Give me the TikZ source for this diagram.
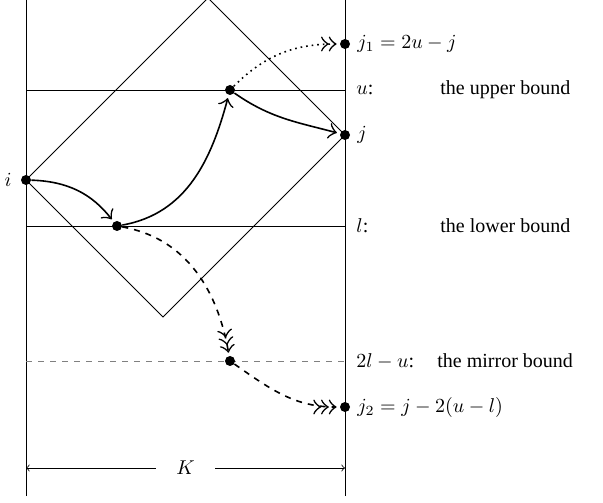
\documentclass[tikz,border=0pt]{standalone}
\usepackage{amsmath}
\usepackage{fontspec}
\setmainfont{Liberation Serif}
\usetikzlibrary{arrows.meta}

\tikzset{
  dot/.style={circle,fill,inner sep=0pt,minimum size=5pt},
  walk/.style={thick,shorten >=1.5pt,-{Classical TikZ Rightarrow[scale=1.6]}},
  twotip/.style={-{Classical TikZ Rightarrow[scale=1.5,sep=0pt]Classical TikZ Rightarrow[scale=1.5]}},
  threetip/.style={-{Classical TikZ Rightarrow[scale=1.5,sep=0pt]Classical TikZ Rightarrow[scale=1.5,sep=0pt]Classical TikZ Rightarrow[scale=1.5]}},
  boundtext/.style={anchor=west,inner sep=0pt}
}

\begin{document}
\begin{tikzpicture}[x=0.5pt,y=0.5pt]
\useasboundingbox (0,0) rectangle (603,502);
\clip (0,0) rectangle (603,502);
% the strip and its bounds
\coordinate (lb) at (26,6);
\coordinate (lt) at (26,502);
\coordinate (rb) at (345,6);
\coordinate (rt) at (345,502);
\draw (lb) -- (lt);
\draw (rb) -- (rt);
\draw (26,412) -- (345,412);
\draw (26,276) -- (345,276);
\draw[dashed,gray] (26,141) -- (345,141);
% the square
\draw[thin] (26,322) -- (163,185) -- (345,367) -- (208,504) -- cycle;
% points of the walk
\node[dot,label={[label distance=1pt]left:$i$}] (i) at (26,322) {};
\node[dot] (a) at (117,276) {};
\node[dot] (b) at (230,412) {};
\node[dot,label={[label distance=0pt]right:$j$}] (j) at (345,367) {};
\node[dot,label={[label distance=0pt]right:$j_1=2u-j$}] (j1) at (345,458) {};
\node[dot] (m) at (230,141) {};
\node[dot,label={[label distance=0pt]right:$j_2=j-2(u-l)$}] (j2) at (345,95) {};
% labels of the bounds
\node[boundtext] (ul) at (356,412) {$u$:};
\node[boundtext] (ut) at (440,412) {the upper bound};
\node[boundtext] (ll) at (356,276) {$l$:};
\node[boundtext] (lt2) at (440,276) {the lower bound};
\node[boundtext] (ml) at (356,141) {$2l-u$:};
\node[boundtext] (mt) at (437,141) {the mirror bound};
% the walks
\draw[walk] (i) to[bend left=25] (a);
\draw[walk] (a) to[out=10,in=-105] (b);
\draw[walk] (b) to[out=-35,in=165] (j);
\draw[walk,dotted,twotip] (b) to[out=45,in=180] (j1);
\draw[walk,dashed,threetip] (a) to[out=-10,in=100] (m);
\draw[walk,dashed,threetip] (m) to[out=-35,in=180] (j2);
% width
\coordinate (kl) at (26,34);
\coordinate (kr) at (345,34);
\draw[{Classical TikZ Rightarrow}-{Classical TikZ Rightarrow}] (kl) -- node[fill=white,inner xsep=10pt] (k) {$K$} (kr);
\end{tikzpicture}
\end{document}
